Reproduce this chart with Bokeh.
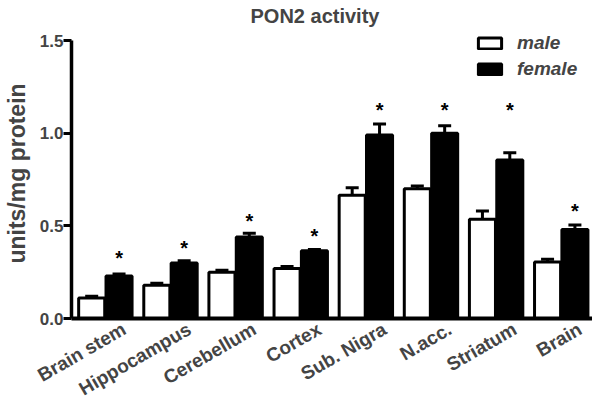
import numpy as np
from bokeh.plotting import figure
from bokeh.models import (ColumnDataSource, Whisker, TeeHead, FixedTicker,
                          Legend, LegendItem, Range1d)
from bokeh.core.properties import value
from bokeh.embed import file_html
from bokeh.resources import INLINE

regions = ["Brain stem", "Hippocampus", "Cerebellum", "Cortex",
           "Sub. Nigra", "N.acc.", "Striatum", "Brain"]
male = [0.11, 0.18, 0.25, 0.27, 0.665, 0.70, 0.535, 0.305]
male_err = [0.01, 0.01, 0.01, 0.01, 0.04, 0.015, 0.045, 0.015]
female = [0.23, 0.30, 0.44, 0.365, 0.99, 1.00, 0.855, 0.48]
female_err = [0.01, 0.012, 0.02, 0.008, 0.06, 0.04, 0.04, 0.025]
star_levels = [0.324, 0.378, 0.526, 0.445, 1.126, 1.126, 1.126, 0.58]
y_ticks = [0.0, 0.5, 1.0, 1.5]

FONT = "Liberation Sans"
N = len(regions)
idx = np.arange(N)          # category slot of each region
BW = 0.4                    # bar width (category units)
OFF = 0.21                  # half distance between the two bars of a pair
SH = 0.02
LABEL_SHIFT = 0.31          # labels end right of the pair centre

src = ColumnDataSource(dict(
    cat=regions, xm=idx - OFF + SH, xf=idx + OFF + SH,
    male=male, female=female,
    male_up=[m + e for m, e in zip(male, male_err)],
    female_up=[f + e for f, e in zip(female, female_err)],
    star=star_levels, star_txt=["*"] * N,
))

p = figure(frame_width=521, frame_height=290,
           x_range=Range1d(-0.5, N - 0.5), y_range=Range1d(0, 1.565),
           output_backend="svg", toolbar_location=None,
           min_border_left=63, min_border_right=0, min_border_top=22, min_border_bottom=78)

p.title.text = "PON2 activity"
p.title.text_font = FONT
p.title.text_font_size = "20px"
p.title.text_font_style = "bold"
p.title.align = "left"
p.title.offset = 179
p.title.standoff = 4

p.outline_line_color = None
p.xgrid.visible = False
p.ygrid.visible = False

r_m = p.vbar(x="xm", top="male", width=BW, source=src,
             fill_color="white", line_color="black", line_width=3)
r_f = p.vbar(x="xf", top="female", width=BW, source=src,
             fill_color="black", line_color="black", line_width=3)

for xc, lo, up in [("xm", "male", "male_up"), ("xf", "female", "female_up")]:
    w = Whisker(base=xc, lower=lo, upper=up, source=src,
                line_color="black", line_width=3, lower_head=None,
                upper_head=TeeHead(size=13, line_width=3, line_color="black"))
    p.add_layout(w)

p.text(x="xf", y="star", text="star_txt", source=src,
       text_font=value(FONT), text_font_size="20px", text_font_style="bold",
       text_align="center", text_baseline="middle", text_color="black")

# y axis
p.yaxis.ticker = FixedTicker(ticks=y_ticks)
p.yaxis.bounds = (y_ticks[0], y_ticks[-1])
p.yaxis.major_label_overrides = {t: f"{t:.1f}" for t in y_ticks}
p.yaxis.axis_label = "units/mg protein"
p.yaxis.axis_label_text_font = FONT
p.yaxis.axis_label_text_font_size = "23px"
p.yaxis.axis_label_text_font_style = "bold"
p.yaxis.axis_label_standoff = 7
p.yaxis.major_label_text_font = FONT
p.yaxis.major_label_text_font_size = "17px"
p.yaxis.major_label_text_font_style = "bold"
p.yaxis.major_label_standoff = 0
p.yaxis.axis_line_width = 3.5
p.yaxis.major_tick_line_width = 3
p.yaxis.major_tick_out = 8
p.yaxis.major_tick_in = 0
p.yaxis.minor_tick_line_color = None

# x axis: category names
xticks = [round(float(i) + LABEL_SHIFT, 3) for i in idx]
p.xaxis.ticker = FixedTicker(ticks=xticks)
p.xaxis.major_label_overrides = {t: r for t, r in zip(xticks, regions)}
p.xaxis.axis_line_width = 4
p.xaxis.major_tick_line_color = None
p.xaxis.minor_tick_line_color = None
p.xaxis.major_label_orientation = np.pi / 6
p.xaxis.major_label_text_font = FONT
p.xaxis.major_label_text_font_size = "19px"
p.xaxis.major_label_text_font_style = "bold"
p.xaxis.major_label_standoff = 3

legend = Legend(items=[LegendItem(label="male", renderers=[r_m]),
                       LegendItem(label="female", renderers=[r_f])],
                location=(404, 236), orientation="vertical",
                glyph_width=29, glyph_height=14, label_height=26, spacing=0,
                padding=0, margin=0, label_standoff=13,
                label_text_font=FONT, label_text_font_size="19px",
                label_text_font_style="bold italic",
                border_line_color=None, background_fill_alpha=0)
p.add_layout(legend)

open("out.html", "w").write(file_html(p, INLINE))
